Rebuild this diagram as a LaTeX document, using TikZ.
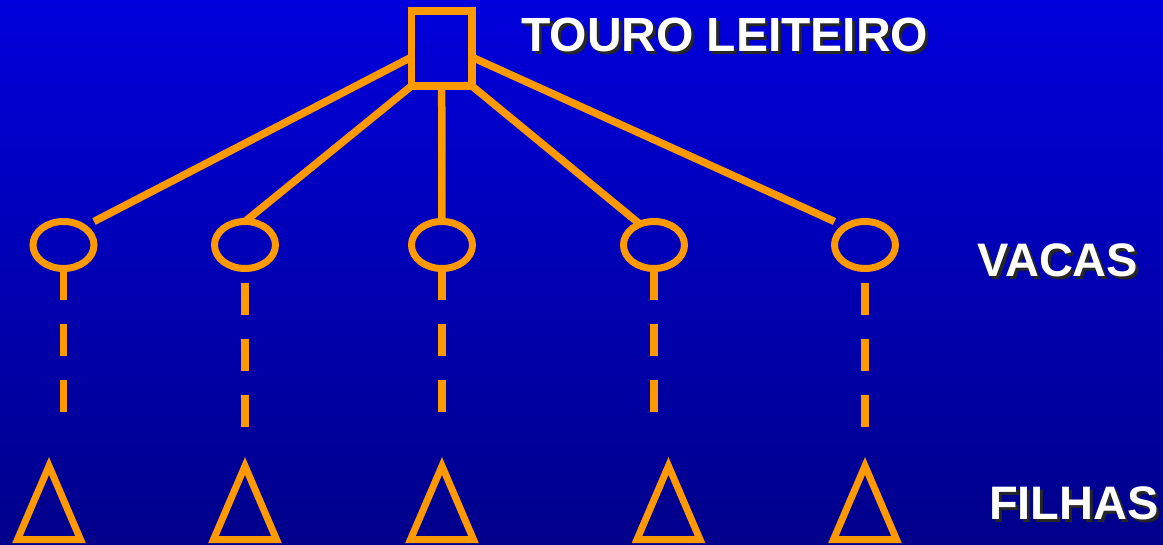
\documentclass[tikz,border=0pt]{standalone}
\usepackage{xcolor}
\usepackage{fontspec}
\setmainfont{Liberation Sans}
\usetikzlibrary{shapes.geometric, positioning, calc}

\definecolor{gado}{RGB}{255,153,0}
\definecolor{fundotop}{RGB}{0,0,220}
\definecolor{fundobot}{RGB}{0,0,138}
\newcommand{\sombra}[1]{\makebox[0pt][l]{\hspace{3pt}\raisebox{-3pt}{\color{black!85}#1}}#1}

\begin{document}
\begin{tikzpicture}[
    x=1pt, y=-1pt,
    bull/.style={rectangle, draw=gado, line width=7.5pt, inner sep=0pt, outer sep=0pt,
                 minimum width=60.5pt, minimum height=75pt},
    cow/.style={ellipse, draw=gado, line width=7pt, inner sep=0pt, outer sep=0pt,
                minimum width=61pt, minimum height=47pt},
    calf/.style={isosceles triangle, isosceles triangle stretches, shape border rotate=90,
                 draw=gado, line width=7pt, inner sep=0pt, outer sep=0pt,
                 minimum width=63pt, minimum height=73.5pt, anchor=apex},
    link/.style={draw=gado, line width=7.5pt},
    descent/.style={draw=gado, line width=7.5pt, dash pattern=on 32pt off 24pt},
    lbl/.style={text=white, font=\fontsize{47}{56}\selectfont\bfseries,
                inner sep=0pt, anchor=base west}
]
\useasboundingbox (0,0) rectangle (1163,545);
\shade[top color=fundotop, bottom color=fundobot] (0,0) rectangle (1163,545);

\node[bull] (touro) at (441.7,48.5) {};

\node[cow] (v1) at (63.5,245) {};
\node[cow] (v2) at (245,245) {};
\node[cow] (v3) at (442,245) {};
\node[cow] (v4) at (654,245) {};
\node[cow] (v5) at (865,245) {};

\node[calf] (f1) at (49,466) {};
\node[calf] (f2) at (245,466) {};
\node[calf] (f3) at (442,466) {};
\node[calf] (f4) at (668.5,466) {};
\node[calf] (f5) at (865,466) {};

\draw[link] (touro.196) -- (v1.north -| v1.east);
\draw[link] (touro.south west) -- (v2.north);
\draw[link] (touro.south) -- (v3.north);
\draw[link] (touro.south east) -- (v4.124);
\draw[link] (touro.344) -- (v5.north -| v5.west);

\draw[descent, shorten >=54pt] (v1.south) -- (v1.south |- f1.apex);
\draw[descent, shorten <=14.5pt, shorten >=39pt] (v2.south) -- (f2.apex);
\draw[descent, shorten >=54pt] (v3.south) -- (f3.apex);
\draw[descent, shorten >=54pt] (v4.south) -- (v4.south |- f4.apex);
\draw[descent, shorten <=14.5pt, shorten >=39pt] (v5.south) -- (f5.apex);

\node[lbl, font=\fontsize{48}{56}\selectfont\bfseries] (touro-lbl) at (521,52) {\sombra{TOURO LEITEIRO}};
\node[lbl] (vacas-lbl) at (977,277) {\sombra{VACAS}};
\node[lbl] (filhas-lbl) at (989,519) {\sombra{FILHAS}};
\end{tikzpicture}
\end{document}
